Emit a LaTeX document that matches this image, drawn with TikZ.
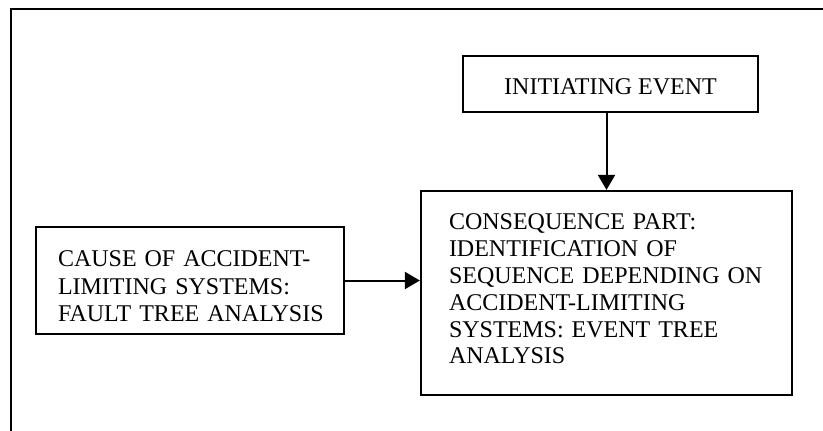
\documentclass[tikz,border=0pt]{standalone}
\usepackage{fontspec}
\setmainfont{Liberation Serif}
\usetikzlibrary{arrows.meta}

\begin{document}
\begin{tikzpicture}[
  x=1pt, y=-1pt,
  box/.style={draw, line width=2.2pt, font=\fontsize{24}{26.8}\selectfont},
  flow/.style={draw, line width=2pt, -{Triangle[length=15pt,width=17pt]}},
  frame/.style={draw, line width=2.2pt}
]
  \useasboundingbox (0,0) rectangle (823,431);

  % open frame: top and left sides only
  \path[frame] (823,9) -- (11,9) -- (11,431);

  % initiating event
  \node[box, minimum width=295pt, minimum height=56pt, inner sep=0pt]
    (init) at (610.5,84) {\rule{0pt}{22pt}INITIATING EVENT};

  % consequence part
  \node[box, minimum width=371pt, minimum height=204pt,
        text width=315pt, inner xsep=28pt, inner ysep=0pt, align=left]
    (conseq) at (606.5,293)
    {\mbox{CONSEQUENCE PART:}\\
     \mbox{IDENTIFICATION OF}\\
     \mbox{SEQUENCE DEPENDING ON}\\
     \mbox{ACCIDENT-LIMITING}\\
     \mbox{SYSTEMS: EVENT TREE}\\
     \mbox{ANALYSIS}\rule[-8pt]{0pt}{8pt}};

  % cause of accident-limiting systems
  \node[box, font=\fontsize{24}{27.3}\selectfont,
        minimum width=308pt, minimum height=107pt,
        text width=264pt, inner xsep=22pt, inner ysep=0pt, align=left]
    (cause) at (190,280.5)
    {\rule{0pt}{27.5pt}\mbox{CAUSE OF ACCIDENT-}\\
     \mbox{LIMITING SYSTEMS:}\\
     \mbox{FAULT TREE ANALYSIS}};

  % connectors
  \path[flow] (init.south -| conseq.north) -- (conseq.north);
  \path[flow] (cause.east) -- (cause.east -| conseq.west);
\end{tikzpicture}
\end{document}
